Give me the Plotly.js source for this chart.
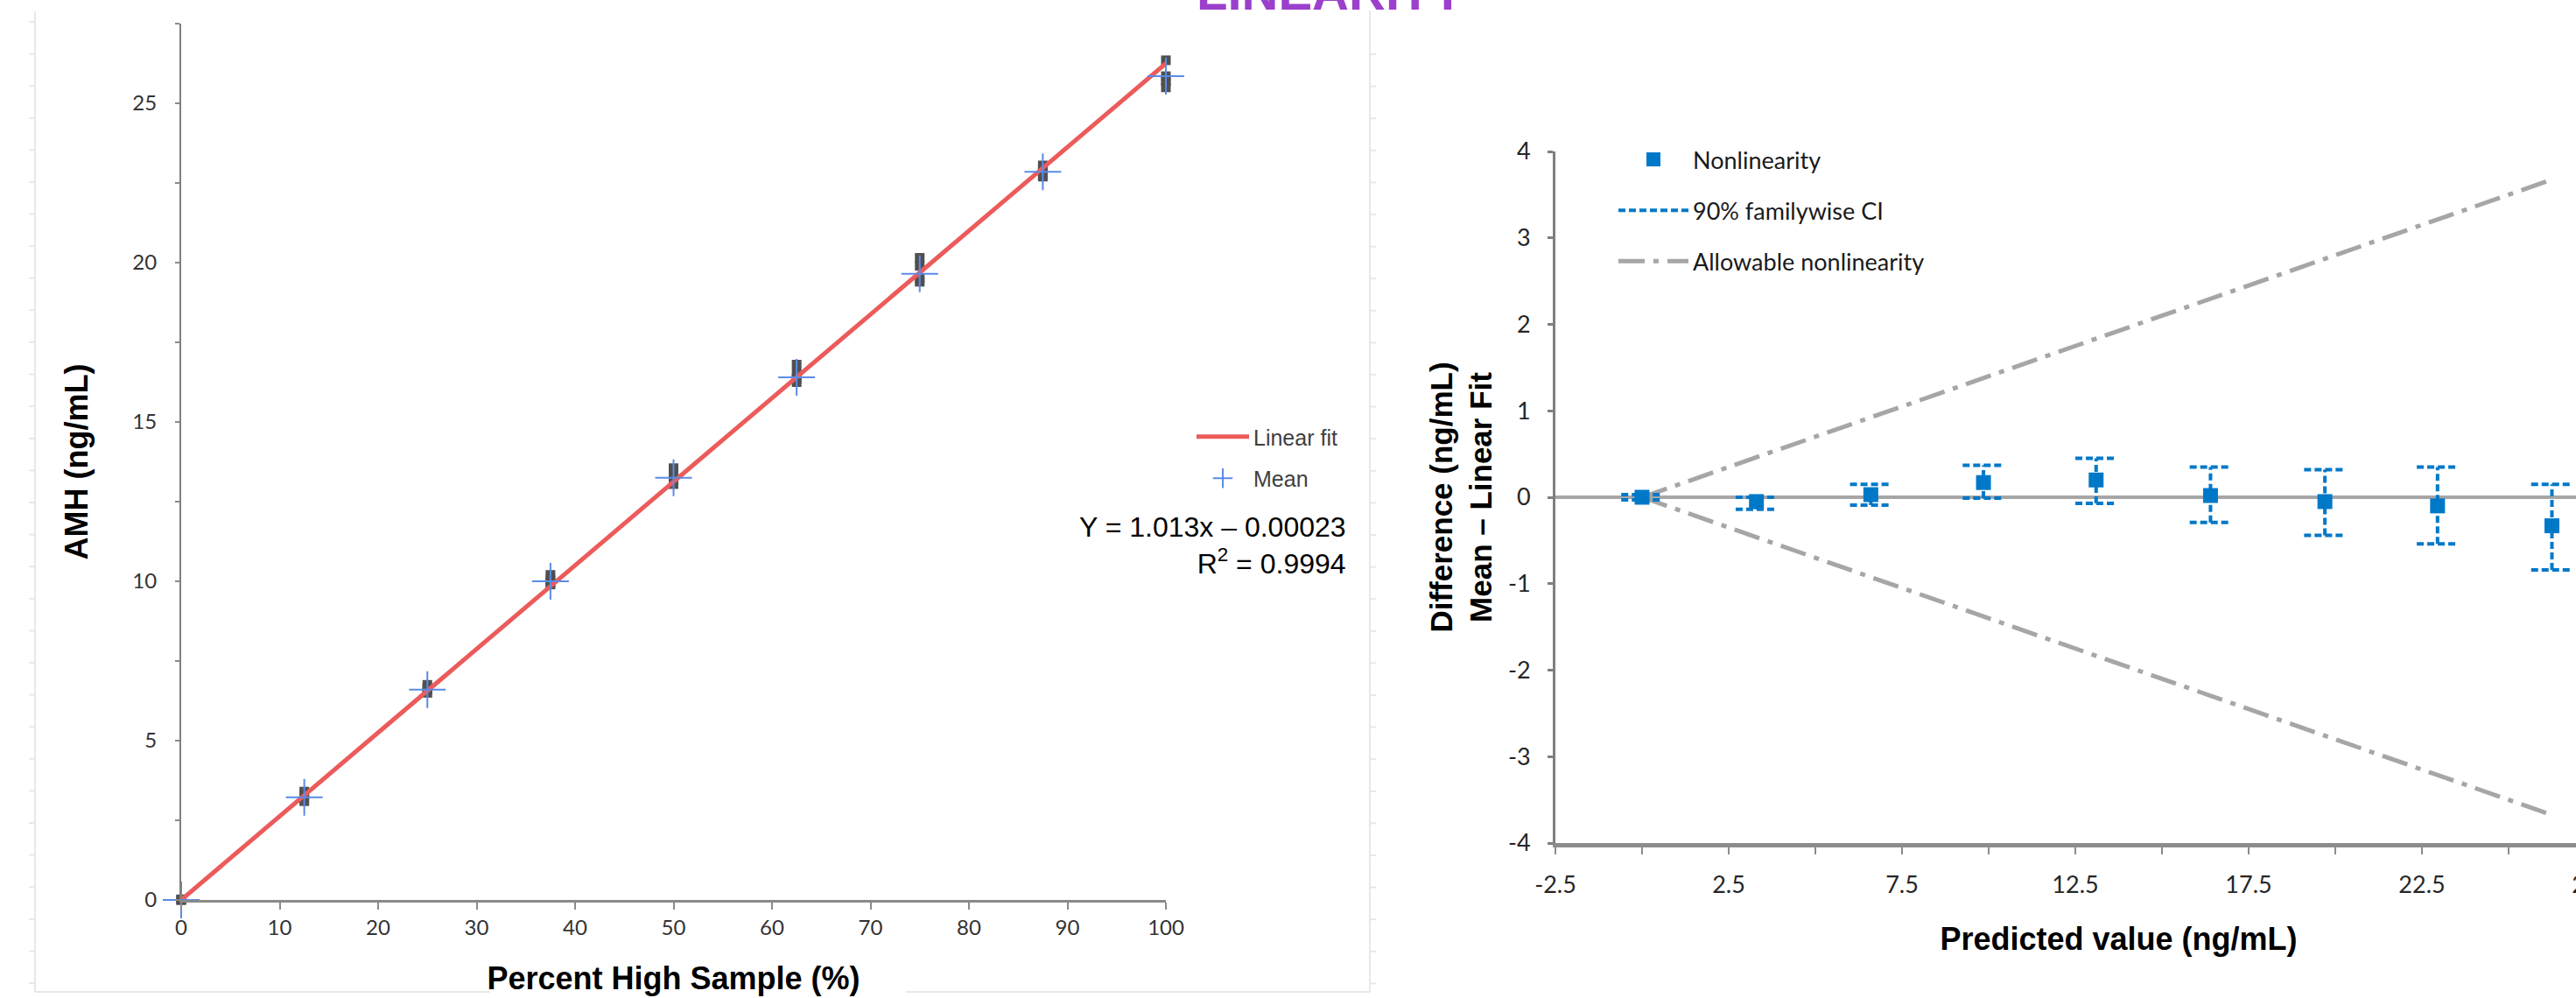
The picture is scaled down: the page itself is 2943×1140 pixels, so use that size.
<!DOCTYPE html>
<html>
<head>
<meta charset="utf-8">
<script src="https://cdn.plot.ly/plotly-3.0.1.min.js"></script>
<style>
html, body { margin:0; padding:0; background:#fff; overflow:hidden; }
#wrap { position:relative; width:2943px; height:1140px; overflow:hidden; }
#chart { width:3074px; height:1140px; }
</style>
</head>
<body>
<div id="wrap"><div id="chart"></div></div>
<script>
// ---------- Left chart: AMH vs percent high sample ----------
const pctLevels = [0, 12.5, 25, 37.5, 50, 62.5, 75, 87.5, 100];
const repA = [0.02, 3.40, 6.75, 10.20, 13.55, 16.80, 20.15, 23.05, 26.35];
const repB = [0.00, 3.30, 6.65, 10.05, 13.35, 16.50, 19.90, 22.90, 25.85];
const repC = [0.00, 3.15, 6.60, 9.95, 13.15, 16.35, 19.50, 22.75, 25.70];
const repD = [-0.02, 3.10, 6.50, 9.90, 13.05, 16.25, 19.40, 22.70, 25.50];
const meanAMH = [0.00, 3.22, 6.60, 10.00, 13.25, 16.40, 19.65, 22.85, 25.85];
const fitX = [0, 100];
const fitY = [0, 26.25];
const leftYTicks = [0, 5, 10, 15, 20, 25];

// ---------- Right chart: nonlinearity ----------
const predX  = [0.00, 3.30, 6.60, 9.85, 13.10, 16.40, 19.70, 22.95, 26.25];
const nonlin = [0.00, -0.05, 0.03, 0.17, 0.20, 0.02, -0.05, -0.10, -0.33];
const ciHigh = [0.03, 0.00, 0.15, 0.37, 0.45, 0.35, 0.32, 0.35, 0.15];
const ciLow  = [-0.03, -0.14, -0.09, -0.01, -0.07, -0.29, -0.44, -0.54, -0.84];
const allowX   = [0, 26.25];
const allowUp  = [0, 3.675];
const allowLow = [0, -3.675];
const rightXTickVals = [-2.5, 2.5, 7.5, 12.5, 17.5, 22.5, 27.5];
const rightXTickText = ['-2.5', '2.5', '7.5', '12.5', '17.5', '22.5', '27.5'];
const rightYTickVals = [-4, -3, -2, -1, 0, 1, 2, 3, 4];
const rightYTickText = ['-4', '-3', '-2', '-1', '0', '1', '2', '3', '4'];

// ---------- helpers (layout only) ----------
const W = 3074, H = 1140;
const fx = p => p / W;
const fy = p => 1 - p / H;
const capHalf = 0.6;

// replicate scatter
const repX = [], repY = [];
[repA, repB, repC, repD].forEach(arr => arr.forEach((v, i) => { repX.push(pctLevels[i]); repY.push(v); }));

// CI segments
const ciX = [], ciY = [];
predX.forEach((x, i) => {
  ciX.push(x, x, null, x - capHalf, x + capHalf, null, x - capHalf, x + capHalf, null);
  ciY.push(ciLow[i], ciHigh[i], null, ciHigh[i], ciHigh[i], null, ciLow[i], ciLow[i], null);
});

// allowable lines
const alX = [allowX[0], allowX[1], null, allowX[0], allowX[1]];
const alY = [allowUp[0], allowUp[1], null, allowLow[0], allowLow[1]];

const blue = '#0078C8';

const traces = [
  { x: repX, y: repY, type: 'scatter', mode: 'markers', xaxis: 'x', yaxis: 'y',
    marker: { symbol: 'square', size: 11, color: '#505050' }, showlegend: false, cliponaxis: false, hoverinfo: 'x+y' },
  { x: fitX, y: fitY, type: 'scatter', mode: 'lines', xaxis: 'x', yaxis: 'y', name: 'Linear fit',
    line: { color: '#EC5B5B', width: 5 }, legend: 'legend', legendgroup: 'fit', legendrank: 1, cliponaxis: false },
  { x: pctLevels, y: meanAMH, type: 'scatter', mode: 'markers', xaxis: 'x', yaxis: 'y', name: 'Mean',
    marker: { symbol: 'cross-thin', size: 30, line: { width: 2, color: '#5B8BE6' }, color: '#5B8BE6' },
    legend: 'legend', legendgroup: 'mean', legendrank: 2, cliponaxis: false },
  { x: alX, y: alY, type: 'scatter', mode: 'lines', xaxis: 'x2', yaxis: 'y2', name: 'Allowable nonlinearity',
    line: { color: '#A6A6A6', width: 5, dash: '30px,10px,6px,10px' }, legend: 'legend2', legendgroup: 'allow', legendrank: 3 },
  { x: ciX, y: ciY, type: 'scatter', mode: 'lines', xaxis: 'x2', yaxis: 'y2', name: '90% familywise CI',
    line: { color: blue, width: 4, dash: '8px,4px' }, legend: 'legend2', legendgroup: 'ci', legendrank: 2, cliponaxis: false },
  { x: predX, y: nonlin, type: 'scatter', mode: 'markers', xaxis: 'x2', yaxis: 'y2', name: 'Nonlinearity',
    marker: { symbol: 'square', size: 17, color: blue }, legend: 'legend2', legendgroup: 'nl', legendrank: 1, cliponaxis: false }
];

const tickFontL = { family: 'Lato, "Open Sans", sans-serif', size: 24, color: '#333333' };
const tickFontR = { family: 'Lato, "Open Sans", sans-serif', size: 27, color: '#262626' };
const titleFont = { family: '"Liberation Sans", Arial, sans-serif', size: 36, color: '#000000', weight: 'bold' };

// faint slide frame around the left chart (decoration)
const frameColor = '#e8e8e8';
const shapes = [
  { type: 'line', xref: 'paper', yref: 'paper', x0: fx(40), x1: fx(40), y0: fy(13), y1: fy(1133), line: { color: frameColor, width: 2 } },
  { type: 'line', xref: 'paper', yref: 'paper', x0: fx(1565), x1: fx(1565), y0: fy(12), y1: fy(1133), line: { color: frameColor, width: 2 } },
  { type: 'line', xref: 'paper', yref: 'paper', x0: fx(40), x1: fx(560), y0: fy(1133), y1: fy(1133), line: { color: frameColor, width: 2 } },
  { type: 'line', xref: 'paper', yref: 'paper', x0: fx(1035), x1: fx(1565), y0: fy(1133), y1: fy(1133), line: { color: frameColor, width: 2 } }
];
for (let py = 25; py < 1133; py += 36.6) {
  shapes.push({ type: 'line', xref: 'paper', yref: 'paper', x0: fx(33), x1: fx(40), y0: fy(py), y1: fy(py), line: { color: frameColor, width: 2 } });
  shapes.push({ type: 'line', xref: 'paper', yref: 'paper', x0: fx(1565), x1: fx(1572), y0: fy(py + 37), y1: fy(py + 37), line: { color: frameColor, width: 2 } });
}

const layout = {
  width: W, height: H,
  margin: { l: 0, r: 0, t: 0, b: 0 },
  paper_bgcolor: '#ffffff', plot_bgcolor: 'rgba(0,0,0,0)',
  showlegend: true,
  xaxis: {
    domain: [fx(207), fx(1332)], range: [0, 100], anchor: 'y',
    tickmode: 'linear', tick0: 0, dtick: 10,
    ticks: 'outside', ticklen: 8, tickwidth: 2, tickcolor: '#8a8a8a',
    showline: true, linecolor: '#8a8a8a', linewidth: 3,
    showgrid: false, zeroline: false, tickfont: tickFontL,
    title: { text: 'Percent High Sample (%)', font: titleFont, standoff: 34 }
  },
  yaxis: {
    domain: [fy(1028), fy(27)], range: [0, 27.5], anchor: 'x',
    tickmode: 'array', tickvals: leftYTicks,
    ticks: 'outside', ticklen: 5, tickwidth: 2, tickcolor: '#8a8a8a', ticklabelstandoff: 16,
    minor: { tickmode: 'linear', tick0: 0, dtick: 2.5, ticks: 'outside', ticklen: 5, tickwidth: 2, tickcolor: '#8a8a8a', showgrid: false },
    showline: true, linecolor: '#7f7f7f', linewidth: 2,
    showgrid: false, zeroline: false, tickfont: tickFontL,
    title: { text: 'AMH (ng/mL)', font: titleFont, standoff: 40 }
  },
  xaxis2: {
    domain: [fx(1777), fx(3064)], range: [-2.5, 30], anchor: 'y2',
    tickmode: 'array', tickvals: rightXTickVals, ticktext: rightXTickText,
    ticks: 'outside', ticklen: 8, tickwidth: 2, tickcolor: '#8c8c8c', ticklabelstandoff: 12,
    minor: { tickmode: 'linear', tick0: -2.5, dtick: 2.5, ticks: 'outside', ticklen: 8, tickwidth: 2, tickcolor: '#8c8c8c', showgrid: false },
    showline: true, linecolor: '#8c8c8c', linewidth: 5,
    showgrid: false, zeroline: false, tickfont: tickFontR,
    title: { text: 'Predicted value (ng/mL)', font: titleFont, standoff: 36 }
  },
  yaxis2: {
    domain: [fy(963), fy(173)], range: [-4, 4], anchor: 'x2',
    tickmode: 'array', tickvals: rightYTickVals, ticktext: rightYTickText,
    ticks: 'outside', ticklen: 6, tickwidth: 3, tickcolor: '#7f7f7f', ticklabelstandoff: 14,
    showline: true, linecolor: '#7f7f7f', linewidth: 3,
    showgrid: false, zeroline: true, zerolinecolor: '#A6A6A6', zerolinewidth: 4,
    tickfont: tickFontR,
    title: { text: 'Difference (ng/mL)<br>Mean – Linear Fit', font: Object.assign({}, titleFont, { size: 35 }), standoff: 8 }
  },
  legend: {
    x: fx(1362), y: fy(476), xanchor: 'left', yanchor: 'top',
    bgcolor: 'rgba(0,0,0,0)', borderwidth: 0,
    traceorder: 'grouped', tracegroupgap: 12, itemwidth: 60,
    font: { family: '"Liberation Sans", Arial, sans-serif', size: 25, color: '#404040' }
  },
  legend2: {
    x: fx(1844), y: fy(158), xanchor: 'left', yanchor: 'top',
    bgcolor: 'rgba(0,0,0,0)', borderwidth: 0,
    traceorder: 'grouped', tracegroupgap: 20, itemwidth: 80,
    font: { family: 'Lato, "Open Sans", sans-serif', size: 27, color: '#1a1a1a' }
  },
  annotations: [
    { text: 'Y = 1.013x – 0.00023<br>R<sup>2</sup> = 0.9994', xref: 'paper', yref: 'paper',
      x: fx(1540), y: fy(623), xanchor: 'right', yanchor: 'middle', align: 'right', showarrow: false,
      font: { family: '"Liberation Sans", Arial, sans-serif', size: 32, color: '#000000' } },
    { text: 'LINEARITY', xref: 'paper', yref: 'paper', x: fx(1520), y: fy(25), xanchor: 'center', yanchor: 'bottom',
      showarrow: false, font: { family: '"Liberation Sans", Arial, sans-serif', size: 58, color: '#9B40CC', weight: 'bold' } }
  ],
  shapes: shapes
};

Plotly.newPlot('chart', traces, layout, { displayModeBar: false, staticPlot: true });
</script>
</body>
</html>
